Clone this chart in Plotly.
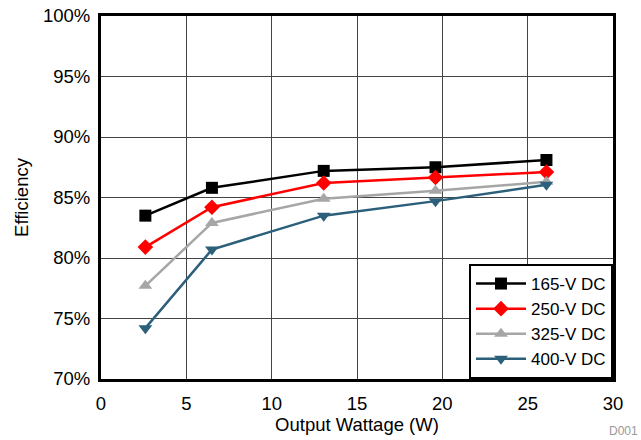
import plotly.graph_objects as go

watts = [2.6, 6.5, 13.05, 19.6, 26.1]
eff_165 = [83.5, 85.8, 87.2, 87.5, 88.1]
eff_250 = [80.9, 84.2, 86.2, 86.65, 87.1]
eff_325 = [77.7, 82.9, 84.9, 85.55, 86.3]
eff_400 = [74.2, 80.7, 83.5, 84.7, 86.05]
names = ["165-V DC", "250-V DC", "325-V DC", "400-V DC"]
colors = ["#000000", "#ff0000", "#a6a6a6", "#2b5f7a"]
symbols = ["square", "diamond", "triangle-up", "triangle-down"]
sizes = [12, 12, 12, 12]
y_ticks = [70, 75, 80, 85, 90, 95, 100]
x_ticks = [0, 5, 10, 15, 20, 25, 30]

fig = go.Figure()
for name, ys, c, s, sz in zip(names, [eff_165, eff_250, eff_325, eff_400], colors, symbols, sizes):
    fig.add_trace(go.Scatter(x=watts, y=ys, name=name, mode="lines+markers",
                             line=dict(color=c, width=2.5),
                             marker=dict(symbol=s, size=sz, color=c)))

fig.update_layout(
    width=641, height=440,
    margin=dict(l=101, r=28, t=16, b=61, autoexpand=False),
    paper_bgcolor="white", plot_bgcolor="white",
    font=dict(family="Arial, Liberation Sans, sans-serif", size=18, color="black"),
    showlegend=True,
    legend=dict(x=1, y=0, xanchor="right", yanchor="bottom",
                bordercolor="black", borderwidth=2, bgcolor="white",
                font=dict(size=17), tracegroupgap=0, itemwidth=50),
    xaxis=dict(range=[0, 30], tickvals=x_ticks, showgrid=True, gridcolor="#444", gridwidth=1,
               showline=True, linecolor="black", linewidth=3, mirror=True,
               ticks="", zeroline=False, ticklabelstandoff=6, tickfont=dict(size=18.5),
               title=dict(text="Output Wattage (W)", font=dict(size=18.5), standoff=3)),
    yaxis=dict(range=[70, 100], tickvals=y_ticks, ticktext=[f"{v}%" for v in y_ticks],
               showgrid=True, gridcolor="#444", gridwidth=1,
               showline=True, linecolor="black", linewidth=3, mirror=True,
               ticks="", zeroline=False, ticklabelstandoff=4, tickfont=dict(size=18.5),
               ticklabeloverflow="allow",
               title=dict(text="Efficiency", font=dict(size=18.5), standoff=10)),
    annotations=[dict(text="D001", xref="paper", yref="paper", x=1.0, y=-0.118,
                      xanchor="right", yanchor="top", showarrow=False, xshift=27,
                      font=dict(size=12, color="#999"))],
)
fig.write_html("out.html", config={"displayModeBar": False},
               post_script="document.body.style.margin='0';")
